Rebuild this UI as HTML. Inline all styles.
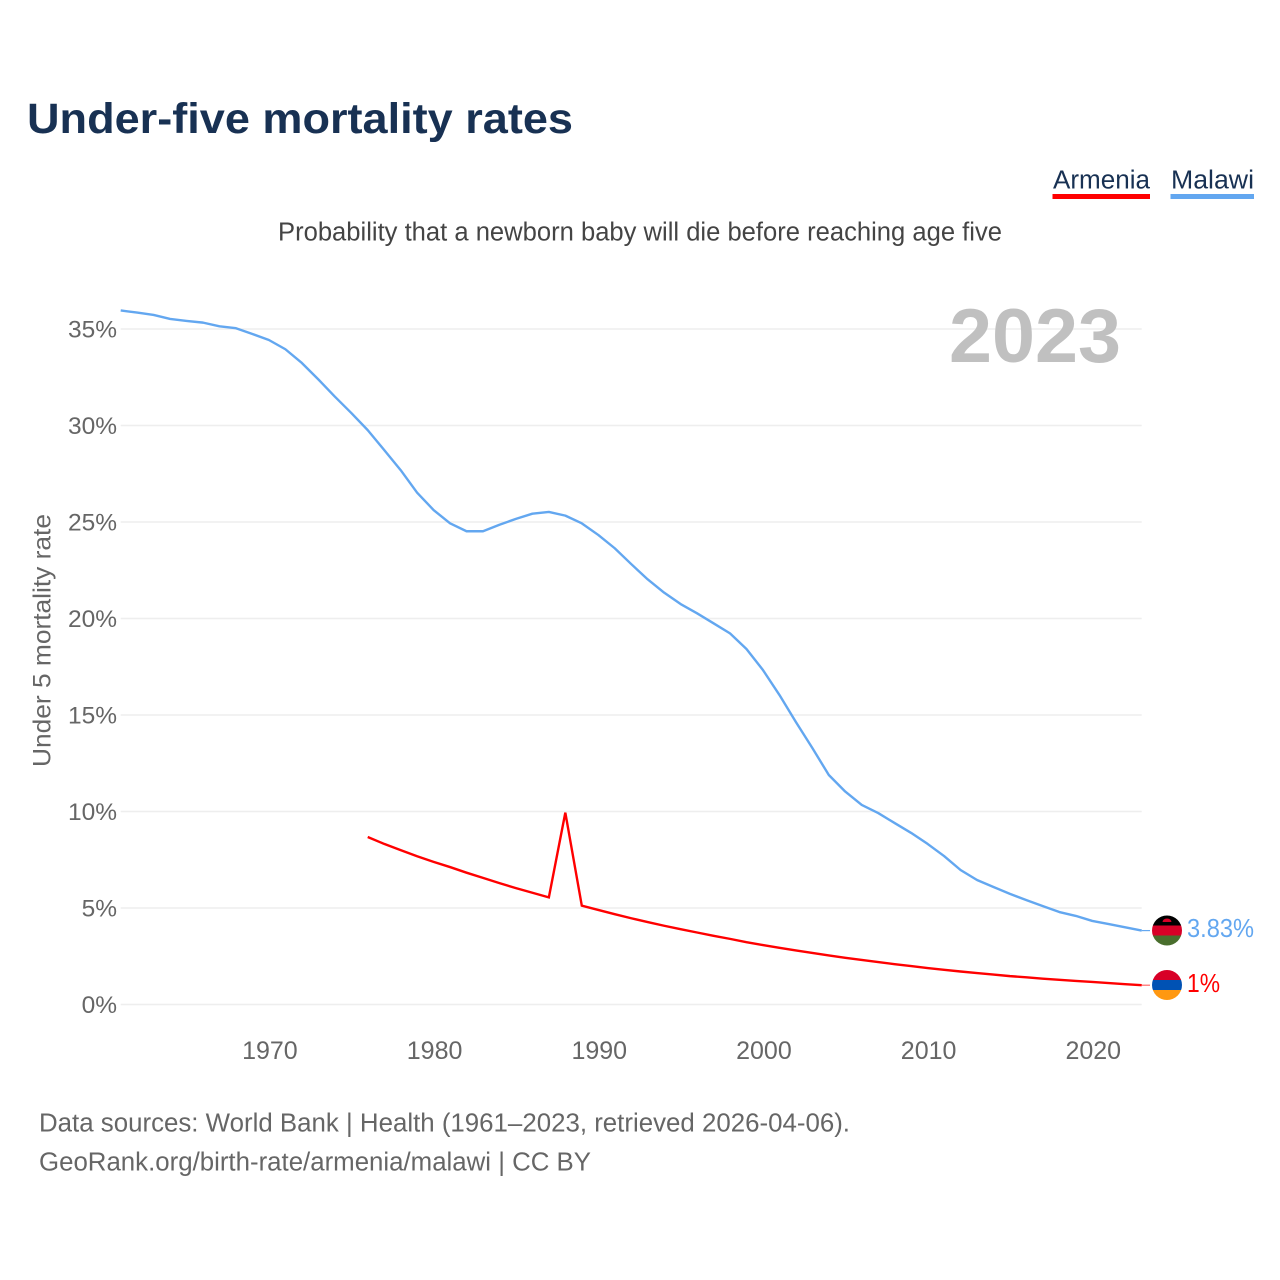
<!DOCTYPE html>
<html lang="en">
<head>
<meta charset="utf-8">
<title>Under-five mortality rates</title>
<style>
html,body{margin:0;padding:0;background:#fff;}
svg{display:block;font-family:"Liberation Sans",sans-serif;}
</style>
</head>
<body>
<svg id="chart" xmlns="http://www.w3.org/2000/svg" width="1280" height="1280" viewBox="0 0 1280 1280">
  <rect x="0" y="0" width="1280" height="1280" fill="#ffffff"/>
  <text x="27" y="133" font-size="43" font-weight="700" fill="#183153" textLength="546" lengthAdjust="spacingAndGlyphs">Under-five mortality rates</text>
  <g>
    <text x="1053" y="188.500" font-size="25.500" fill="#183153" textLength="97" lengthAdjust="spacingAndGlyphs">Armenia</text>
    <rect x="1052.500" y="194" width="97.500" height="5" fill="#ff0000"/>
  </g>
  <g>
    <text x="1171" y="188.500" font-size="25.500" fill="#183153" textLength="83" lengthAdjust="spacingAndGlyphs">Malawi</text>
    <rect x="1170.500" y="194" width="83.500" height="5" fill="#63a7f0"/>
  </g>
  <text x="278" y="240.500" font-size="25.500" fill="#444444" textLength="724" lengthAdjust="spacingAndGlyphs">Probability that a newborn baby will die before reaching age five</text>
  <g id="grid"></g>
  <g id="y-ticks"></g>
  <g id="x-ticks"></g>
  <text transform="translate(50.500,767) rotate(-90)" x="0" y="0" font-size="25" fill="#666666" textLength="253" lengthAdjust="spacingAndGlyphs">Under 5 mortality rate</text>
  <text x="949" y="362" font-size="76" font-weight="700" fill="#c0c0c0" textLength="172" lengthAdjust="spacingAndGlyphs">2023</text>
  <g id="series"></g>
  <g id="end-labels"></g>
  <g>
    <clipPath id="clip-mw"><circle cx="1167" cy="930.500" r="15"/></clipPath>
    <g clip-path="url(#clip-mw)">
      <rect x="1152" y="915" width="30" height="10.500" fill="#000000"/>
      <rect x="1152" y="925.500" width="30" height="10" fill="#d80027"/>
      <rect x="1152" y="935.500" width="30" height="11" fill="#496e2d"/>
      <path d="M1162.500 922 a4.500 3.500 0 0 1 9 0 z" fill="#d80027"/>
    </g>
  </g>
  <g>
    <clipPath id="clip-am"><circle cx="1167" cy="985" r="15"/></clipPath>
    <g clip-path="url(#clip-am)">
      <rect x="1152" y="970" width="30" height="10" fill="#d80027"/>
      <rect x="1152" y="980" width="30" height="10" fill="#0052b4"/>
      <rect x="1152" y="990" width="30" height="10" fill="#ff9811"/>
    </g>
  </g>
  <text x="39" y="1131.500" font-size="25.500" fill="#666666" textLength="811" lengthAdjust="spacingAndGlyphs">Data sources: World Bank | Health (1961–2023, retrieved 2026-04-06).</text>
  <text x="39" y="1170.500" font-size="25.500" fill="#666666" textLength="552" lengthAdjust="spacingAndGlyphs">GeoRank.org/birth-rate/armenia/malawi | CC BY</text>
</svg>
<script>
const malawiStartYear = 1961;
const malawiValues = [35.96,35.85,35.73,35.52,35.42,35.33,35.14,35.04,34.74,34.43,33.95,33.24,32.39,31.50,30.65,29.76,28.73,27.69,26.52,25.62,24.93,24.52,24.52,24.86,25.16,25.43,25.52,25.33,24.93,24.33,23.64,22.82,22.03,21.34,20.75,20.27,19.75,19.23,18.42,17.33,16.04,14.64,13.29,11.89,11.03,10.34,9.92,9.40,8.89,8.32,7.69,6.97,6.45,6.09,5.73,5.41,5.10,4.79,4.59,4.33,4.17,4.00,3.83];
const armeniaStartYear = 1976;
const armeniaValues = [8.68,8.32,8.00,7.68,7.39,7.12,6.83,6.56,6.29,6.03,5.79,5.55,9.94,5.12,4.90,4.68,4.47,4.27,4.08,3.90,3.73,3.56,3.40,3.23,3.08,2.94,2.80,2.67,2.54,2.42,2.31,2.20,2.09,1.99,1.89,1.80,1.71,1.63,1.55,1.47,1.41,1.34,1.28,1.22,1.17,1.11,1.05,1.00];
const yTickValues = [0,5,10,15,20,25,30,35];
const yTickLabels = ["0%","5%","10%","15%","20%","25%","30%","35%"];
const xTickYears = [1970,1980,1990,2000,2010,2020];
const xTickLabels = ["1970","1980","1990","2000","2010","2020"];
const malawiEndLabel = "3.83%";
const armeniaEndLabel = "1%";

const NS = "http://www.w3.org/2000/svg";
function xScale(year){ return 120.7 + (year - 1961) * (1141.7 - 120.7) / 62; }
function yScale(v){ return 1004.5 - v * (1004.5 - 329) / 35; }
function make(tag, attrs, parent){
  const el = document.createElementNS(NS, tag);
  for (const k in attrs) el.setAttribute(k, attrs[k]);
  parent.appendChild(el);
  return el;
}
const gridG = document.getElementById("grid");
const yG = document.getElementById("y-ticks");
const xG = document.getElementById("x-ticks");
const seriesG = document.getElementById("series");
const endG = document.getElementById("end-labels");

yTickValues.forEach(function(v, i){
  const line = make("line", {x1:120.7, x2:1141.7, y1:yScale(v), y2:yScale(v), stroke:"#eeeeee", "stroke-width":1.5}, gridG);
  
  
  const t = make("text", {x:117, y:yScale(v)+8.5, "text-anchor":"end", "font-size":24.5, fill:"#666666"}, yG);
  
  
  t.textContent = yTickLabels[i];
});
xTickYears.forEach(function(yr, i){
  const t = make("text", {x:xScale(yr)+1, y:1059, "text-anchor":"middle", "font-size":25, fill:"#666666"}, xG);
  
  
  t.textContent = xTickLabels[i];
});
function points(values, startYear){
  return values.map(function(v, i){ return xScale(startYear + i).toFixed(2) + "," + yScale(v).toFixed(2); }).join(" ");
}
const malawiLine = make("polyline", {points:points(malawiValues, malawiStartYear), fill:"none", stroke:"#63a7f0", "stroke-width":2.4, "stroke-linejoin":"round"}, seriesG);


const armeniaLine = make("polyline", {points:points(armeniaValues, armeniaStartYear), fill:"none", stroke:"#ff0000", "stroke-width":2.4, "stroke-linejoin":"miter"}, seriesG);



const malawiEndY = yScale(malawiValues[malawiValues.length - 1]);
const armeniaEndY = yScale(armeniaValues[armeniaValues.length - 1]);
const malawiConn = make("line", {x1:1141.7, x2:1150, y1:malawiEndY, y2:malawiEndY, stroke:"#63a7f0", "stroke-width":1.2}, seriesG);


const armeniaConn = make("line", {x1:1141.7, x2:1150, y1:armeniaEndY, y2:armeniaEndY, stroke:"#ff0000", "stroke-width":1.2, "stroke-opacity":0.6}, seriesG);



const malawiText = make("text", {x:1187, y:937, "font-size":25.5, fill:"#63a7f0", textLength:67, lengthAdjust:"spacingAndGlyphs"}, endG);


malawiText.textContent = malawiEndLabel;
const armeniaText = make("text", {x:1187, y:992, "font-size":25.5, fill:"#ff0000", textLength:33, lengthAdjust:"spacingAndGlyphs"}, endG);


armeniaText.textContent = armeniaEndLabel;
</script>
</body>
</html>
